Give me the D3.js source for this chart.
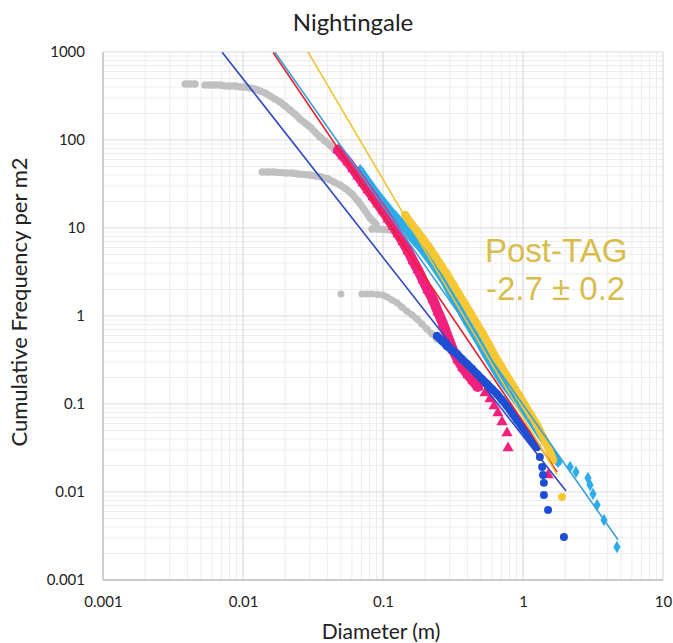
<!DOCTYPE html>
<html>
<head>
<meta charset="utf-8">
<script src="https://cdn.jsdelivr.net/npm/d3@7"></script>
<style>
  html, body { margin: 0; padding: 0; background: #fff; }
  svg { display: block; }
  text { font-family: Lato, "Open Sans", sans-serif; fill: #222; }
</style>
</head>
<body>
<svg id="chart" width="673" height="643"></svg>
<script>
// Crater size-frequency data, Nightingale site (diameter in m, cumulative count per m²)
const xTickLabels = ["0.001", "0.01", "0.1", "1", "10"];
const yTickLabels = ["0.001", "0.01", "0.1", "1", "10", "100", "1000"];

// Grey (excluded / rolled-over) populations
const grey1D = [0.00386,0.00418,0.00454,0.00535,0.00581,0.00631,0.00686,0.00743,0.00807,0.00877,0.00953,0.0103,0.0112,0.0122,0.0132,0.0144,0.0156,0.0169,0.0184,0.0200,0.0217,0.0235,0.0255,0.0277,0.0301,0.0327,0.0355,0.0386,0.0418,0.0454,0.0493];
const grey1N = [433,433,433,422,422,422,422,411,411,411,400,400,390,380,361,342,316,292,270,243,219,197,173,156,141,123,108,97.5,87.8,76.9,69.3];

const grey2D = [0.0137,0.0151,0.0166,0.0184,0.0203,0.0224,0.0247,0.0273,0.0301,0.0332,0.0366,0.0404,0.0447,0.0493,0.0545,0.0601,0.0662,0.0731,0.0807,0.0891];
const grey2N = [43.3,43.3,43.3,42.7,42.2,42.2,41.1,40.5,40.0,39.0,38.0,36.1,33.3,30.8,27.7,24.3,20.3,16.4,13.0,11.1];

const grey3D = [0.0834,0.0920,0.1016,0.112,0.124,0.137,0.151,0.166,0.184,0.203,0.224];
const grey3N = [9.75,9.75,9.62,9.49,9.25,8.77,8.11,7.31,6.41,5.62,4.81];

const grey4D = [0.0501,0.0708,0.0769,0.0834,0.0920,0.100,0.107,0.116,0.126,0.137,0.148,0.161,0.175,0.190,0.206,0.224,0.243];
const grey4N = [1.78,1.78,1.78,1.78,1.75,1.73,1.64,1.52,1.41,1.26,1.14,1.03,0.925,0.811,0.711,0.624,0.548];

// Pink population (triangles)
const pinkD = [0.0477,0.0518,0.0562,0.0611,0.0662,0.0720,0.0782,0.0849,0.0920,0.100,0.109,0.118,0.128,0.139,0.151,0.164,0.178,0.193,0.209,0.228,0.247,0.269,0.291,0.316,0.343,0.372,0.405,0.440,0.477,0.536,0.581,0.621,0.662,0.708,0.769,0.782,1.51];
const pinkN = [76.9,65.8,56.2,46.8,39.0,32.5,27.0,22.5,18.7,15.6,12.6,10.5,8.55,6.93,5.48,4.22,3.33,2.56,1.97,1.52,1.11,0.811,0.577,0.411,0.316,0.256,0.214,0.182,0.156,0.133,0.114,0.0948,0.0791,0.0624,0.0468,0.0316,0.0156];

// Dark blue population (circles)
const blueD = [0.243,0.264,0.286,0.311,0.338,0.366,0.398,0.433,0.469,0.509,0.553,0.601,0.652,0.708,0.769,0.834,0.906,0.984,1.07,1.16,1.26,1.32,1.37,1.39,1.41,1.41,1.51,1.96];
const blueN = [0.593,0.520,0.456,0.411,0.370,0.324,0.285,0.250,0.219,0.192,0.169,0.148,0.130,0.111,0.0948,0.0791,0.0658,0.0548,0.0456,0.0380,0.0325,0.0250,0.0192,0.0156,0.0127,0.00925,0.00624,0.00308];

// Light blue population (diamonds)
const cyanD = [0.0686,0.0757,0.0834,0.0920,0.102,0.112,0.124,0.137,0.151,0.166,0.184,0.203,0.224,0.247,0.273,0.301,0.332,0.366,0.405,0.447,0.493,0.545,0.601,0.662,0.731,0.807,0.891,0.984,1.09,1.20,1.32,1.46,1.61,1.78,2.17,2.39,2.91,3.01,3.16,3.38,3.79,4.69];
const cyanN = [45.6,36.1,29.2,23.7,19.2,16.0,13.3,11.1,9.01,7.31,6.08,4.93,4.00,3.16,2.50,1.87,1.44,1.08,0.811,0.624,0.481,0.361,0.277,0.214,0.169,0.137,0.111,0.0901,0.0731,0.0577,0.0456,0.0361,0.0285,0.0219,0.0192,0.0169,0.0144,0.0120,0.00949,0.00711,0.00481,0.00237];

// Yellow (post-TAG) population (circles)
const yellowD = [0.144,0.158,0.175,0.193,0.213,0.235,0.259,0.286,0.316,0.349,0.386,0.426,0.469,0.518,0.572,0.631,0.697,0.769,0.849,0.936,1.03,1.14,1.26,1.39,1.53,1.64,1.90];
const yellowN = [14.1,11.4,9.25,7.50,6.08,4.81,3.80,3.00,2.31,1.78,1.37,1.05,0.811,0.624,0.468,0.351,0.270,0.208,0.160,0.126,0.0975,0.0750,0.0577,0.0422,0.0308,0.0231,0.00877];

// Power-law fits N = c · D^slope, drawn between dMin and dMax
const fitNames  = ["navy", "red", "lightblue", "yellow"];
const fitCoef   = [0.0432, 0.063, 0.098, 0.0713];
const fitSlope  = [-2.03, -2.35, -2.26, -2.7];
const fitDMin   = [0.0071, 0.0164, 0.0169, 0.0291];
const fitDMax   = [2.03, 1.75, 4.77, 1.75];

const plotL = 103, plotR = 663, plotT = 52, plotB = 580;

const svg = d3.select("#chart");
const x = d3.scaleLog().domain([0.001, 10]).range([plotL, plotR]);
const y = d3.scaleLog().domain([0.001, 1000]).range([plotB, plotT]);

// Gridlines: minor (2–9) and major (decades)
const grid = svg.append("g");
const xMinor = [], yMinor = [];
for (let e = -3; e < 1; e++) for (let m = 2; m <= 9; m++) xMinor.push(m * Math.pow(10, e));
for (let e = -3; e < 3; e++) for (let m = 2; m <= 9; m++) yMinor.push(m * Math.pow(10, e));
grid.selectAll(".xm").data(xMinor).join("line")
  .attr("x1", d => x(d)).attr("x2", d => x(d)).attr("y1", plotT).attr("y2", plotB)
  .attr("stroke", "#ececec").attr("stroke-width", 1);
grid.selectAll(".ym").data(yMinor).join("line")
  .attr("y1", d => y(d)).attr("y2", d => y(d)).attr("x1", plotL).attr("x2", plotR)
  .attr("stroke", "#ececec").attr("stroke-width", 1);
const xMajor = xTickLabels.map(Number), yMajor = yTickLabels.map(Number);
grid.selectAll(".xM").data(xMajor).join("line")
  .attr("x1", d => x(d)).attr("x2", d => x(d)).attr("y1", plotT).attr("y2", plotB)
  .attr("stroke", "#d9d9d9").attr("stroke-width", 1.2);
grid.selectAll(".yM").data(yMajor).join("line")
  .attr("y1", d => y(d)).attr("y2", d => y(d)).attr("x1", plotL).attr("x2", plotR)
  .attr("stroke", "#d9d9d9").attr("stroke-width", 1.2);
// axis lines
svg.append("line").attr("x1", plotL).attr("x2", plotL).attr("y1", plotT).attr("y2", plotB).attr("stroke", "#bfbfbf").attr("stroke-width", 1.3);
svg.append("line").attr("x1", plotL).attr("x2", plotR).attr("y1", plotB).attr("y2", plotB).attr("stroke", "#bfbfbf").attr("stroke-width", 1.3);

// Axes (labels only)
const xAxis = d3.axisBottom(x).tickValues(xMajor).tickFormat((d, i) => xTickLabels[i]).tickSize(0).tickPadding(16);
const yAxis = d3.axisLeft(y).tickValues(yMajor).tickFormat((d, i) => yTickLabels[i]).tickSize(0).tickPadding(18);
const gx = svg.append("g").attr("transform", `translate(0,${plotB})`).call(xAxis);
const gy = svg.append("g").attr("transform", `translate(${plotL},0)`).call(yAxis);
[gx, gy].forEach(g => {
  g.select(".domain").remove();
  g.selectAll("text").style("font-family", "Lato, sans-serif").style("font-size", "15px").attr("fill", "#222");
});

// Scatter populations: where the measurements are dense they merge into a
// continuous band, so the band is stroked through the points and the
// individual markers are drawn on top.
const zip = (a, b) => a.map((d, i) => [d, b[i]]);
const bandLine = d3.line().x(d => x(d[0])).y(d => y(d[1]));
function drawSeries(data, bands, bandWidth, symbol, size, color) {
  const g = svg.append("g");
  bands.forEach(([i0, i1]) => {
    g.append("path").datum(data.slice(i0, i1)).attr("d", bandLine)
      .attr("fill", "none").attr("stroke", color).attr("stroke-width", bandWidth)
      .attr("stroke-linecap", "round").attr("stroke-linejoin", "round");
  });
  g.selectAll("path.pt").data(data).join("path").attr("class", "pt")
    .attr("d", d3.symbol().type(symbol).size(size))
    .attr("transform", d => `translate(${x(d[0])},${y(d[1])})`)
    .attr("fill", color);
}
const grey = "#c0c0c0";
drawSeries(zip(grey1D, grey1N), [[0, 3], [3, 31]], 7, d3.symbolCircle, 40, grey);
drawSeries(zip(grey2D, grey2N), [[0, 20]], 7, d3.symbolCircle, 40, grey);
drawSeries(zip(grey3D, grey3N), [[0, 11]], 7, d3.symbolCircle, 40, grey);
drawSeries(zip(grey4D, grey4N), [[1, 17]], 6, d3.symbolCircle, 40, grey);
drawSeries(zip(cyanD, cyanN), [[0, 34]], 8, d3.symbolDiamond, 45, "#2badea");
drawSeries(zip(yellowD, yellowN), [[0, 26]], 8, d3.symbolCircle, 50, "#f7c734");
drawSeries(zip(pinkD, pinkN), [[0, 29]], 10, d3.symbolTriangle, 55, "#f2207c");
drawSeries(zip(blueD, blueN), [[0, 21]], 8, d3.symbolCircle, 50, "#1c4fd6");

// Fit lines
const fitColors = ["#2f48c4", "#e8222c", "#3a9fd8", "#f0c330"];
const line = d3.line().x(d => x(d[0])).y(d => y(d[1]));
fitNames.forEach((name, i) => {
  const ends = [fitDMin[i], fitDMax[i]].map(d => [d, fitCoef[i] * Math.pow(d, fitSlope[i])]);
  svg.append("path").datum(ends).attr("d", line)
    .attr("stroke", fitColors[i]).attr("stroke-width", 1.6).attr("fill", "none");
});

// Titles
svg.append("text").attr("x", 353).attr("y", 31).attr("text-anchor", "middle")
  .style("font-size", "24px").text("Nightingale");
svg.append("text").attr("x", 381).attr("y", 639).attr("text-anchor", "middle")
  .style("font-size", "21px").text("Diameter (m)");
svg.append("text").attr("transform", "translate(27,302) rotate(-90)").attr("text-anchor", "middle")
  .style("font-size", "22px").text("Cumulative Frequency per m2");

// Annotation
const ann = svg.append("g");
ann.append("text").attr("x", 485).attr("y", 262).style("fill", "#d9bd4c")
  .style("font-family", "'Liberation Sans', Arial, sans-serif").style("font-size", "33px").text("Post-TAG");
ann.append("text").attr("x", 486).attr("y", 300).style("fill", "#d9bd4c")
  .style("font-family", "'Liberation Sans', Arial, sans-serif").style("font-size", "33px").text("-2.7 ± 0.2");
</script>
</body>
</html>
